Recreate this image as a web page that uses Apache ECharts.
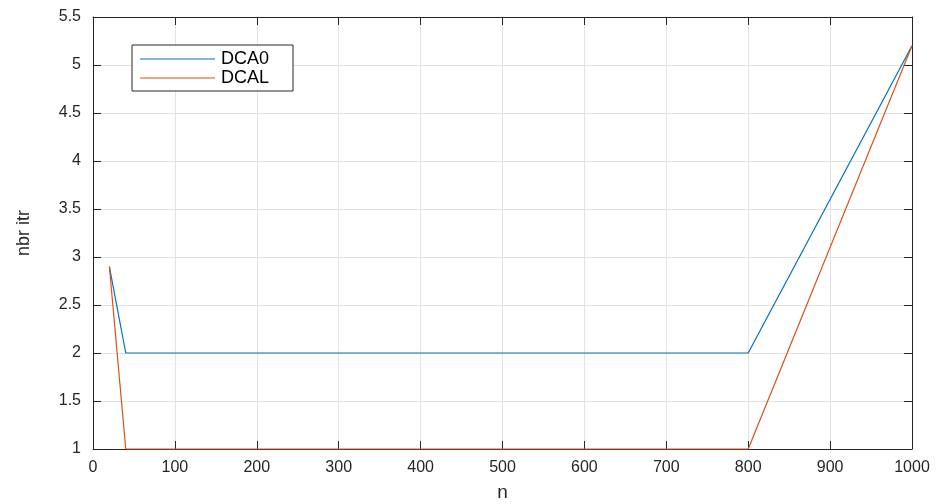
<!DOCTYPE html>
<html>
<head>
<meta charset="utf-8">
<script src="https://cdn.jsdelivr.net/npm/echarts@6/dist/echarts.min.js"></script>
<style>html,body{margin:0;padding:0;background:#fff}#c{width:946px;height:504px}</style>
</head>
<body>
<div id="c"></div>
<script>
const nValues = [20, 40, 800, 1000];
const dca0 = [2.9, 2, 2, 5.2];
const dcal = [2.9, 1, 1, 5.2];
const seriesNames = ['DCA0', 'DCAL'];

const font = 'Liberation Sans, Helvetica, Arial, sans-serif';
const pairs = (ys) => nValues.map((x, i) => [x, ys[i]]);
const axisCol = '#262626';
const gridCol = '#e3e3e3';

const chart = echarts.init(document.getElementById('c'), null, {renderer: 'canvas'});
chart.setOption({
  animation: false,
  backgroundColor: '#fff',
  grid: {left: 93, right: 34, top: 17, bottom: 55, containLabel: false, outerBoundsMode: 'none'},
  legend: {
    orient: 'vertical', left: 132, top: 45,
    data: seriesNames,
    backgroundColor: '#fff', borderColor: axisCol, borderWidth: 1,
    padding: [5, 24, 4, 8], itemGap: 1,
    itemWidth: 75, itemHeight: 14,
    icon: 'path://M0,7L75,7L75,8L0,8Z',
    textStyle: {fontFamily: font, fontSize: 18, lineHeight: 18, color: '#000', padding: [0, 0, 0, 1]}
  },
  xAxis: [{
    type: 'value', min: 0, max: 1000, interval: 100,
    name: 'n', nameLocation: 'middle', nameGap: 34,
    nameTextStyle: {fontFamily: font, fontSize: 19, color: axisCol},
    axisLine: {show: true, lineStyle: {color: axisCol, width: 1}},
    axisTick: {show: true, inside: true, length: 8, lineStyle: {color: axisCol}},
    axisLabel: {fontFamily: font, fontSize: 16, color: axisCol, margin: 11,
      formatter: (v) => String(v)},
    splitLine: {show: true, lineStyle: {color: gridCol, width: 1}}
  }, {
    type: 'value', min: 0, max: 1000, interval: 100, position: 'top',
    axisLine: {show: true, onZero: false, lineStyle: {color: axisCol, width: 1}},
    axisTick: {show: true, inside: true, length: 8, lineStyle: {color: axisCol}},
    axisLabel: {show: false}, splitLine: {show: false}
  }],
  yAxis: [{
    type: 'value', min: 1, max: 5.5, interval: 0.5,
    name: 'nbr itr', nameLocation: 'middle', nameGap: 60, nameRotate: 90,
    nameTextStyle: {fontFamily: font, fontSize: 18, color: axisCol},
    axisLine: {show: true, onZero: false, lineStyle: {color: axisCol, width: 1}},
    axisTick: {show: true, inside: true, length: 8, lineStyle: {color: axisCol}},
    axisLabel: {fontFamily: font, fontSize: 16, color: axisCol, margin: 12,
      formatter: (v) => String(v)},
    splitLine: {show: true, lineStyle: {color: gridCol, width: 1}}
  }, {
    type: 'value', min: 1, max: 5.5, interval: 0.5, position: 'right',
    axisLine: {show: true, onZero: false, lineStyle: {color: axisCol, width: 1}},
    axisTick: {show: true, inside: true, length: 8, lineStyle: {color: axisCol}},
    axisLabel: {show: false}, splitLine: {show: false}
  }],
  series: [{
    name: seriesNames[0], type: 'line', data: pairs(dca0),
    showSymbol: false, symbol: 'none', clip: false,
    lineStyle: {color: '#0072BD', width: 1.2}, itemStyle: {color: '#0072BD'}
  }, {
    name: seriesNames[1], type: 'line', data: pairs(dcal),
    showSymbol: false, symbol: 'none', clip: false,
    lineStyle: {color: '#D95319', width: 1.2}, itemStyle: {color: '#D95319'}
  }]
});
</script>
</body>
</html>
